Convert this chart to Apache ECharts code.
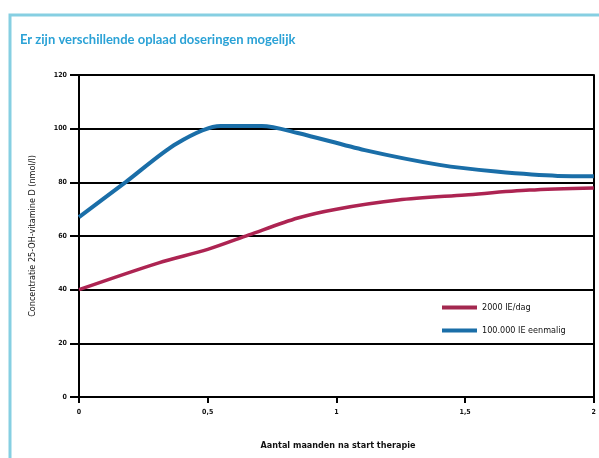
<!DOCTYPE html>
<html><head><meta charset="utf-8">
<script src="https://cdn.jsdelivr.net/npm/echarts@6/dist/echarts.min.js"></script>
<style>html,body{margin:0;padding:0;background:#fff}#c{width:599px;height:458px}</style>
</head><body><div id="c"></div>
<script>
const titleText = "Er zijn verschillende oplaad doseringen mogelijk";
const yName = "Concentratie 25-OH-vitamine D (nmol/l)";
const xName = "Aantal maanden na start therapie";
const seriesNames = ["2000 IE/dag", "100.000 IE eenmalig"];
const xTickLabels = {"0":"0","0.5":"0,5","1":"1","1.5":"1,5","2":"2"};
const redX = [0, 0.31, 0.5, 0.66, 0.85, 1.0, 1.24, 1.5, 1.75, 2.0];
const redY = [40, 50, 55, 60.4, 66.7, 70, 73.4, 75.3, 77.1, 77.9];
const blueX = [0, 0.18, 0.38, 0.55, 0.71, 0.85, 1.11, 1.4, 1.62, 1.86, 2.0];
const blueY = [67, 80, 94.5, 101, 101, 98.4, 92, 86.5, 84, 82.4, 82.3];

const chart = echarts.init(document.getElementById('c'));
const lblFont = {fontFamily:'DejaVu Sans Condensed', fontWeight:'bold', fontSize:7, color:'#111'};
chart.setOption({
  animation:false,
  backgroundColor:'#fff',
  graphic:[
    {type:'rect', shape:{x:10, y:15, width:620, height:480}, style:{fill:'none', stroke:'#86cfe2', lineWidth:3}},
    {type:'text', left:20, top:33, style:{text:titleText, fill:'#2ba2d6', font:'bold 13px Lato'}},
    {type:'text', x:33, y:236, rotation:Math.PI/2, style:{text:yName, fill:'#111', font:'9px "DejaVu Sans Condensed"', align:'center', verticalAlign:'middle'}},
    {type:'text', x:338, y:446, style:{text:xName, fill:'#111', font:'bold 9px "DejaVu Sans Condensed"', align:'center', verticalAlign:'middle'}}
  ],
  grid:{left:79, right:2, top:75, bottom:61},
  legend:{
    orient:'vertical', left:437, top:298, itemWidth:35, itemHeight:4, itemGap:14,
    icon:'rect',
    textStyle:{fontFamily:'DejaVu Sans Condensed', fontSize:9, color:'#111'},
    data:seriesNames
  },
  xAxis:{
    type:'value', min:0, max:2, interval:0.5,
    axisLine:{lineStyle:{color:'#000', width:2}},
    axisTick:{show:true, length:6, lineStyle:{color:'#000', width:2}},
    splitLine:{show:false},
    axisLabel:Object.assign({margin:12, formatter:v=>xTickLabels[String(v)] ?? String(v)}, lblFont)
  },
  yAxis:[{
    type:'value', min:0, max:120, interval:20,
    axisLine:{show:true, lineStyle:{color:'#000', width:2}},
    axisTick:{show:true, length:9, lineStyle:{color:'#000', width:2}},
    splitLine:{lineStyle:{color:'#000', width:2}},
    axisLabel:Object.assign({margin:12}, lblFont)
  },{
    type:'value', min:0, max:120, interval:20, position:'right',
    axisLine:{show:true, lineStyle:{color:'#000', width:2}},
    axisTick:{show:false}, axisLabel:{show:false}, splitLine:{show:false}
  }],
  series:[
    {name:seriesNames[0], type:'line', smooth:0.3, symbol:'none',
     data:redX.map((x,i)=>[x, redY[i]]), lineStyle:{color:'#ad2452', width:3.5}, itemStyle:{color:'#a3284f'}, z:3},
    {name:seriesNames[1], type:'line', smooth:0.3, symbol:'none',
     data:blueX.map((x,i)=>[x, blueY[i]]), lineStyle:{color:'#1a6ea8', width:4}, itemStyle:{color:'#1a6ea8'}, z:4}
  ]
});
</script></body></html>
